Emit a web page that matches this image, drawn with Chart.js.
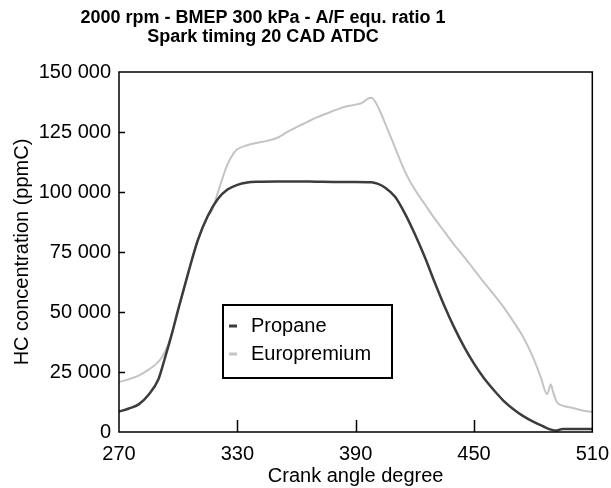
<!DOCTYPE html>
<html>
<head>
<meta charset="utf-8">
<script src="https://cdn.jsdelivr.net/npm/chart.js@4"></script>
<style>
  html, body { margin: 0; padding: 0; background: #fff; }
  #wrap { width: 611px; height: 488px; }
</style>
</head>
<body>
<div id="wrap"><canvas id="graphic" width="611" height="488"></canvas></div>
<script>
// crank angle (CAD) and HC concentration (ppmC)
var propaneAngles = [270, 275, 280, 285, 290, 293, 297, 300, 305, 310, 315, 320, 325, 330, 335, 340, 350, 360, 370, 380, 390, 398, 401, 405, 410, 415, 420, 425, 430, 435, 440, 445, 450, 455, 460, 465, 470, 475, 480, 485, 489, 492, 495, 510];
var propaneHC = [8500, 9800, 11500, 15500, 22000, 30000, 41500, 51000, 66000, 80000, 90000, 97000, 101000, 103000, 104000, 104300, 104400, 104400, 104300, 104200, 104200, 104100, 103500, 101800, 98000, 91000, 82500, 73000, 62500, 52500, 43500, 35500, 28500, 22500, 17500, 13000, 9500, 6600, 4300, 2400, 1000, 600, 1300, 1300];

var europremiumAngles = [270, 275, 280, 285, 289, 292, 295, 297, 300, 305, 310, 315, 317, 320, 323, 325, 328, 330, 335, 340, 345, 350, 355, 360, 365, 370, 375, 380, 385, 390, 393, 396, 398, 400, 403, 405, 410, 415, 420, 425, 430, 435, 440, 445, 450, 455, 460, 465, 470, 475, 480, 484, 487, 489, 490, 492, 495, 500, 505, 510];
var europremiumHC = [20800, 22000, 23500, 26000, 28500, 31500, 36500, 41500, 51000, 66000, 80000, 89800, 92000, 99500, 107000, 111500, 116000, 117800, 119500, 120500, 121300, 122500, 124800, 127000, 129000, 131000, 132600, 134200, 135600, 136400, 137000, 138800, 139300, 137500, 132500, 128500, 118500, 108500, 101000, 95000, 89000, 83500, 78000, 73000, 67700, 62400, 57300, 52000, 46000, 39500, 31000, 22500, 15800, 19800, 17000, 12500, 11000, 10000, 9000, 8300];

var xTicks = [270, 330, 390, 450, 510];
var titleLines = ['2000 rpm - BMEP 300 kPa - A/F equ. ratio 1', 'Spark timing 20 CAD ATDC'];

var FONT = "'Liberation Sans', Arial, sans-serif";

function points(xs, ys) {
    return xs.map(function (x, i) { return { x: x, y: ys[i] }; });
}

// frame, inner ticks, title and the boxed legend
var decorations = {
    id: 'decorations',
    afterDraw: function (chart) {
        var c = chart.ctx, a = chart.chartArea;
        var xs = chart.scales.x, ys = chart.scales.y;
        c.save();
        c.strokeStyle = '#000';
        c.lineWidth = 1.5;
        c.strokeRect(a.left, a.top, a.right - a.left, a.bottom - a.top);
        c.beginPath();
        xTicks.slice(1, -1).forEach(function (v) {
            var px = Math.round(xs.getPixelForValue(v)) + 0.5;
            c.moveTo(px, a.bottom);
            c.lineTo(px, a.bottom - 12);
        });
        for (var v = 25000; v < 150000; v += 25000) {
            var py = Math.round(ys.getPixelForValue(v)) + 0.5;
            c.moveTo(a.left, py);
            c.lineTo(a.left + 6, py);
        }
        c.stroke();

        c.fillStyle = '#000';
        c.font = 'bold 18px ' + FONT;
        c.textAlign = 'center';
        c.textBaseline = 'alphabetic';
        c.fillText(titleLines[0], 263, 23);
        c.fillText(titleLines[1], 263, 42);

        var lx = a.left + 104, ly = a.top + 233;
        c.lineWidth = 2;
        c.strokeRect(lx, ly, 169, 73);
        c.font = '20px ' + FONT;
        c.textAlign = 'left';
        c.textBaseline = 'middle';
        chart.data.datasets.forEach(function (ds, i) {
            var y = ly + 21 + i * 28;
            c.strokeStyle = ds.borderColor;
            c.lineWidth = 3;
            c.beginPath();
            c.moveTo(lx + 6, y);
            c.lineTo(lx + 14, y);
            c.stroke();
            c.fillStyle = '#000';
            c.fillText(ds.label, lx + 28, y);
        });
        c.restore();
    }
};

var ctx = document.getElementById('graphic').getContext('2d');

var hcData = {
    datasets: [{
        label: 'Propane',
        data: points(propaneAngles, propaneHC),
        borderColor: '#3c3c3c',
        borderWidth: 2.5,
        order: 1
    }, {
        label: 'Europremium',
        data: points(europremiumAngles, europremiumHC),
        borderColor: '#c4c4c4',
        borderWidth: 2,
        order: 2
    }]
};

var hcOptions = {
    responsive: false,
    animation: false,
    events: [],
    layout: { padding: { top: 72, right: 18, left: 0, bottom: 0 } },
    elements: {
        point: { radius: 0 },
        line: { cubicInterpolationMode: 'monotone', fill: false }
    },
    plugins: { legend: { display: false }, title: { display: false }, tooltip: { enabled: false } },
    scales: {
        x: {
            type: 'linear',
            min: 270,
            max: 510,
            afterBuildTicks: function (s) { s.ticks = xTicks.map(function (v) { return { value: v }; }); },
            afterFit: function (s) { s.height = 56; },
            grid: { display: false },
            border: { display: false },
            ticks: { color: '#000', font: { family: FONT, size: 20 }, padding: 2, maxRotation: 0 },
            title: { display: true, text: 'Crank angle degree', color: '#000', font: { family: FONT, size: 20 }, padding: 0 }
        },
        y: {
            min: 0,
            max: 150000,
            afterFit: function (s) { s.width = 119; },
            grid: { display: false },
            border: { display: false },
            ticks: {
                stepSize: 25000,
                color: '#000',
                padding: 0,
                font: { family: FONT, size: 20 },
                callback: function (v) { return String(v).replace(/\B(?=(\d{3})+(?!\d))/g, ' '); }
            },
            title: { display: true, text: 'HC concentration (ppmC)', color: '#000', font: { family: FONT, size: 20 }, padding: { top: 10, bottom: 0 } }
        }
    }
};

var graphic = new Chart(ctx, {
    type: 'line',
    data: hcData,
    options: hcOptions,
    plugins: [decorations]
});
</script>
</body>
</html>
